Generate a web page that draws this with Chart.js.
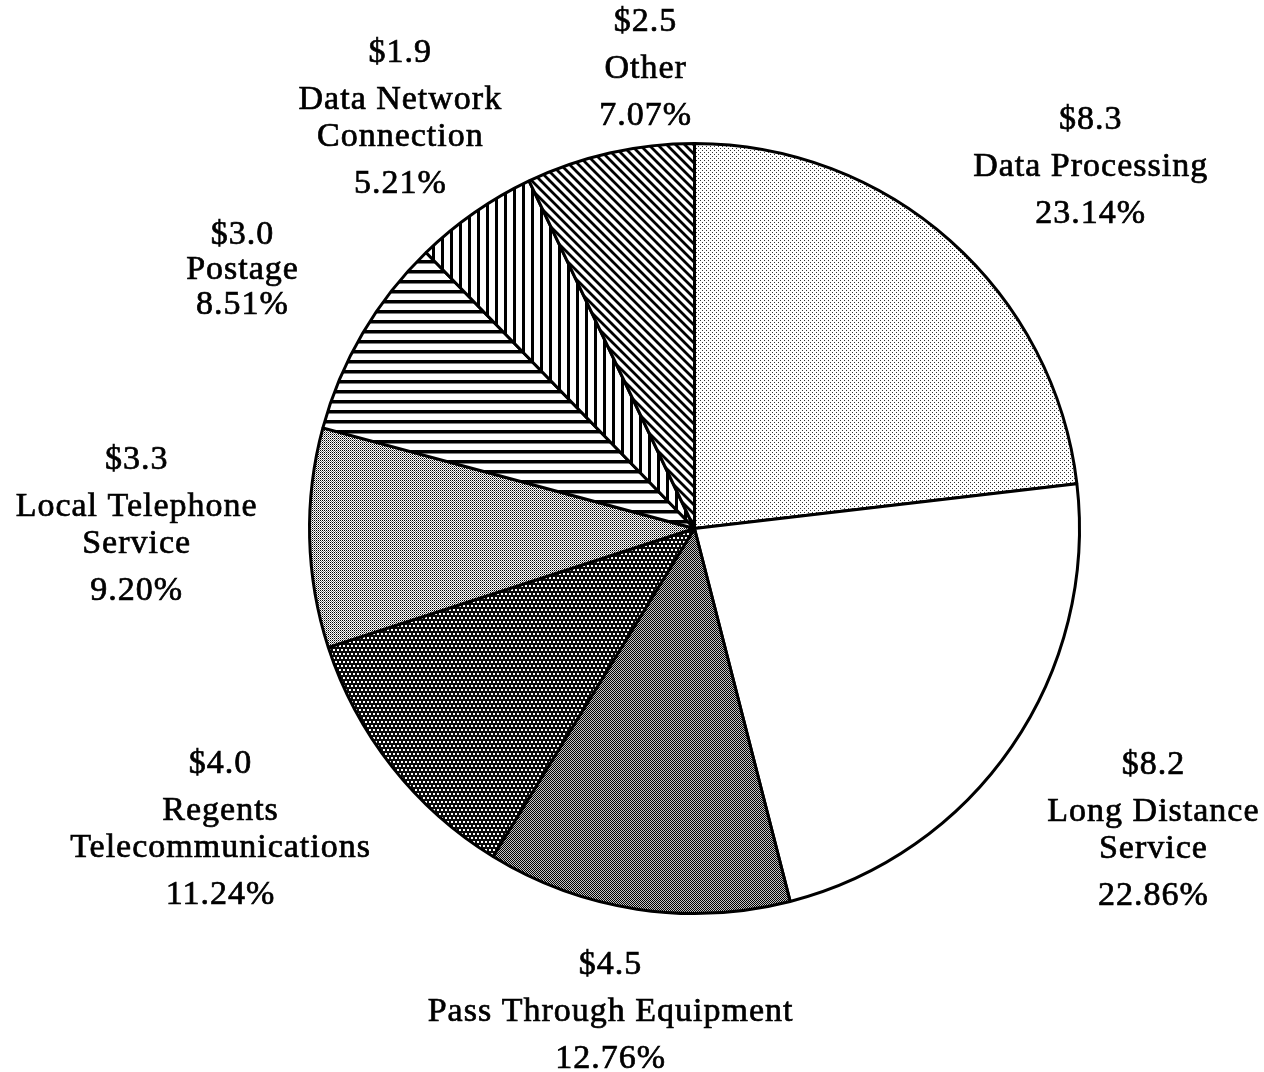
<!DOCTYPE html>
<html>
<head>
<meta charset="utf-8">
<script src="https://cdn.jsdelivr.net/npm/chart.js@4.4.1/dist/chart.umd.min.js"></script>
<style>
  html, body { margin: 0; padding: 0; background: #fff; }
  #wrap { width: 1264px; height: 1072px; position: relative; }
</style>
</head>
<body>
<div id="wrap"><canvas id="pieChart"></canvas></div>
<script>
// Dati (milioni di dollari e quota percentuale)
const categories = [
    ['Data Processing'],
    ['Long Distance', 'Service'],
    ['Pass Through Equipment'],
    ['Regents', 'Telecommunications'],
    ['Local Telephone', 'Service'],
    ['Postage'],
    ['Data Network', 'Connection'],
    ['Other']
];
const amounts = [8.3, 8.2, 4.5, 4.0, 3.3, 3.0, 1.9, 2.5];
const shares = [23.14, 22.86, 12.76, 11.24, 9.20, 8.51, 5.21, 7.07];

// Crea un pattern da una piccola tela
function makePattern(w, h, draw) {
    const c = document.createElement('canvas');
    c.width = w;
    c.height = h;
    const ctx = c.getContext('2d');
    ctx.fillStyle = '#fff';
    ctx.fillRect(0, 0, w, h);
    draw(ctx);
    return c.getContext('2d').createPattern(c, 'repeat');
}

const fills = [
    // puntini radi grigi
    makePattern(4, 4, ctx => {
        ctx.fillStyle = '#333';
        ctx.fillRect(0, 0, 1, 1);
        ctx.fillRect(2, 2, 1, 1);
    }),
    // bianco
    '#ffffff',
    // scacchiera fitta, grigio scuro
    makePattern(2, 2, ctx => {
        ctx.fillStyle = '#c4c4c4';
        ctx.fillRect(0, 0, 2, 2);
        ctx.fillStyle = '#000';
        ctx.fillRect(0, 0, 1, 1);
        ctx.fillRect(1, 1, 1, 1);
    }),
    // nero con fori bianchi
    makePattern(4, 8, ctx => {
        ctx.fillStyle = '#0a0a0a';
        ctx.fillRect(0, 0, 4, 8);
        ctx.fillStyle = '#fff';
        ctx.fillRect(1, 1, 2, 2);
        ctx.fillRect(3, 5, 1, 2);
        ctx.fillRect(0, 5, 1, 2);
    }),
    // puntini medi
    makePattern(2, 2, ctx => {
        ctx.fillStyle = '#000';
        ctx.fillRect(0, 0, 1, 1);
        ctx.fillStyle = '#7a7a7a';
        ctx.fillRect(1, 1, 1, 1);
    }),
    // righe orizzontali
    makePattern(10, 10, ctx => {
        ctx.fillStyle = '#000';
        ctx.fillRect(0, 0, 10, 3.5);
    }),
    // righe verticali
    makePattern(9, 9, ctx => {
        ctx.fillStyle = '#000';
        ctx.fillRect(0, 0, 3, 9);
    }),
    // righe diagonali
    makePattern(9, 9, ctx => {
        ctx.strokeStyle = '#000';
        ctx.lineWidth = 2.8;
        ctx.beginPath();
        ctx.moveTo(-2, -2); ctx.lineTo(11, 11);
        ctx.moveTo(-11, -2); ctx.lineTo(2, 11);
        ctx.moveTo(7, -2); ctx.lineTo(20, 11);
        ctx.stroke();
    })
];

// Posizione delle etichette rispetto al centro (in raggi)
const labelOffsets = [
    [1.029, -0.938], [1.192, 0.784], [-0.218, 1.255], [-1.231, 0.782],
    [-1.449, -0.008], [-1.174, -0.670], [-0.764, -1.065], [-0.127, -1.193]
];

const labelPlugin = {
    id: 'sliceLabels',
    afterDraw(chart) {
        const ctx = chart.ctx;
        const arcs = chart.getDatasetMeta(0).data;
        ctx.save();
        ctx.font = '34px "Liberation Serif", serif';
        ctx.letterSpacing = '1px';
        ctx.fillStyle = '#000';
        ctx.strokeStyle = '#000';
        ctx.lineWidth = 0.7;
        ctx.textAlign = 'center';
        ctx.textBaseline = 'middle';
        arcs.forEach((arc, i) => {
            const r = arc.outerRadius;
            const cx = arc.x + labelOffsets[i][0] * r;
            const cy = arc.y + labelOffsets[i][1] * r;
            const lines = ['$' + amounts[i].toFixed(1), ...categories[i], shares[i].toFixed(2) + '%'];
            const tight = categories[i][0] === 'Postage';
            const ys = [0];
            for (let k = 1; k < lines.length; k++) {
                const gap = tight ? 35 : (k === 1 || k === lines.length - 1 ? 47 : 37);
                ys.push(ys[k - 1] + gap);
            }
            const mid = ys[ys.length - 1] / 2;
            lines.forEach((t, k) => {
                ctx.fillText(t, cx, cy + ys[k] - mid);
                ctx.strokeText(t, cx, cy + ys[k] - mid);
            });
        });
        ctx.restore();
    }
};

const data = {
    labels: categories.map(c => c.join(' ')),
    datasets: [{
        data: shares,
        backgroundColor: fills,
        borderColor: '#000',
        borderWidth: 3
    }]
};

const config = {
    type: 'pie',
    data: data,
    options: {
        responsive: true,
        maintainAspectRatio: false,
        animation: false,
        layout: {
            padding: { left: 308, right: 183, top: 142, bottom: 157 }
        },
        plugins: {
            legend: { display: false },
            tooltip: { enabled: false }
        }
    },
    plugins: [labelPlugin]
};

// Crea il grafico a torta
const pieChart = new Chart(
    document.getElementById('pieChart'),
    config
);
</script>
</body>
</html>
